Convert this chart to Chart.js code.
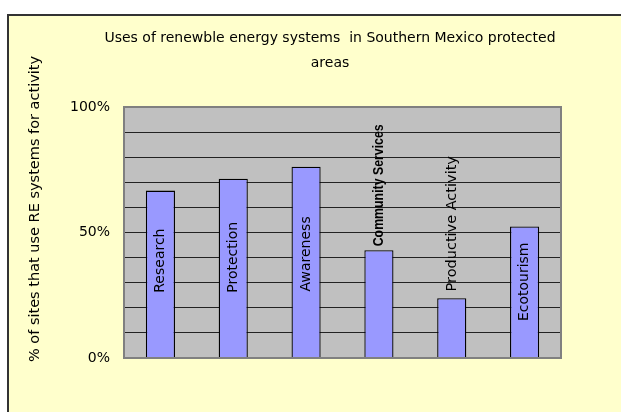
<!DOCTYPE html>
<html>
<head>
<meta charset="utf-8">
<script src="https://cdn.jsdelivr.net/npm/chart.js@4"></script>
<style>
  html, body { margin: 0; padding: 0; background: #fff; }
  body { width: 621px; height: 412px; overflow: hidden; position: relative; }
  #frame { position: absolute; left: 7px; top: 14px; width: 640px; height: 420px;
           background: #FFFFCC; border: 2px solid #333; }
  #chart { position: absolute; left: 0; top: 0; }
</style>
</head>
<body>
<div id="frame"></div>
<canvas id="chart" width="621" height="412"></canvas>
<script>
// data
const categories = ['Research', 'Protection', 'Awareness', 'Community Services', 'Productive Activity', 'Ecotourism'];
const sharePct = [66.7, 71.4, 76.2, 42.9, 23.8, 52.4];
// where each rotated category label starts (in % units of the axis)
const labelStart = [26, 26, 26.5, 44.5, 26.5, 14.7];
const titleLines = ['Uses of renewble energy systems  in Southern Mexico protected', 'areas'];
const yTitle = '% of sites that use RE systems for activity';

const comic = '"Comic Sans MS", "DejaVu Sans", sans-serif';

const decor = {
  id: 'decor',
  beforeDraw(chart) {
    const {ctx, chartArea: a} = chart;
    ctx.save();
    ctx.fillStyle = '#C0C0C0';
    ctx.fillRect(a.left, a.top, a.right - a.left, a.bottom - a.top);
    ctx.restore();
  },
  afterDatasetsDraw(chart) {
    const {ctx} = chart;
    const y = chart.scales.y;
    const meta = chart.getDatasetMeta(0);
    ctx.save();
    ctx.fillStyle = '#000';
    ctx.textBaseline = 'middle';
    ctx.textAlign = 'left';
    meta.data.forEach((bar, i) => {
      const name = categories[i];
      let squeeze = 1;
      if (name === 'Community Services') {
        ctx.font = 'bold 14px "Liberation Sans Narrow", "Liberation Sans", sans-serif';
        squeeze = 122 / ctx.measureText(name).width; // narrow, as in the original
      } else if (name === 'Productive Activity') ctx.font = '14.5px ' + comic;
      else ctx.font = '14px ' + comic;
      ctx.save();
      ctx.translate(bar.x, y.getPixelForValue(labelStart[i]));
      ctx.rotate(-Math.PI / 2);
      ctx.scale(squeeze, 1);
      ctx.fillText(name, 0, 0);
      ctx.restore();
    });
    ctx.restore();
  },
  afterDraw(chart) {
    const {ctx, chartArea: a} = chart;
    ctx.save();
    ctx.strokeStyle = '#808080';
    ctx.lineWidth = 2;
    ctx.strokeRect(a.left, a.top, a.right - a.left, a.bottom - a.top);
    // title
    ctx.fillStyle = '#000';
    ctx.font = '14px ' + comic;
    ctx.textAlign = 'center';
    ctx.textBaseline = 'middle';
    ctx.fillText(titleLines[0], 330, 38);
    ctx.fillText(titleLines[1], 330, 63);
    // y axis title
    ctx.font = '14.5px ' + comic;
    ctx.translate(35, 209);
    ctx.rotate(-Math.PI / 2);
    ctx.fillText(yTitle, 0, 0);
    ctx.restore();
  }
};

new Chart(document.getElementById('chart'), {
  type: 'bar',
  data: {
    labels: categories,
    datasets: [{
      data: sharePct,
      backgroundColor: '#9999FF',
      borderColor: '#000',
      borderWidth: 1.3,
      barPercentage: 0.4,
      categoryPercentage: 1
    }]
  },
  options: {
    responsive: false,
    animation: false,
    devicePixelRatio: 1,
    layout: { padding: { left: 0, top: 107, right: 60, bottom: 54 } },
    plugins: { legend: { display: false }, tooltip: { enabled: false }, title: { display: false } },
    scales: {
      x: {
        grid: { display: false },
        border: { display: false },
        ticks: { display: false },
        afterFit(s) { s.height = 0; }
      },
      y: {
        min: 0, max: 100,
        grid: { color: '#222', lineWidth: 1, drawTicks: false },
        border: { display: false },
        ticks: {
          stepSize: 10,
          padding: 14,
          color: '#000',
          font: { family: comic, size: 14 },
          callback: v => (v % 50 === 0 ? v + '%' : '')
        },
        afterFit(s) { s.width = 124; }
      }
    }
  },
  plugins: [decor]
});
</script>
</body>
</html>
